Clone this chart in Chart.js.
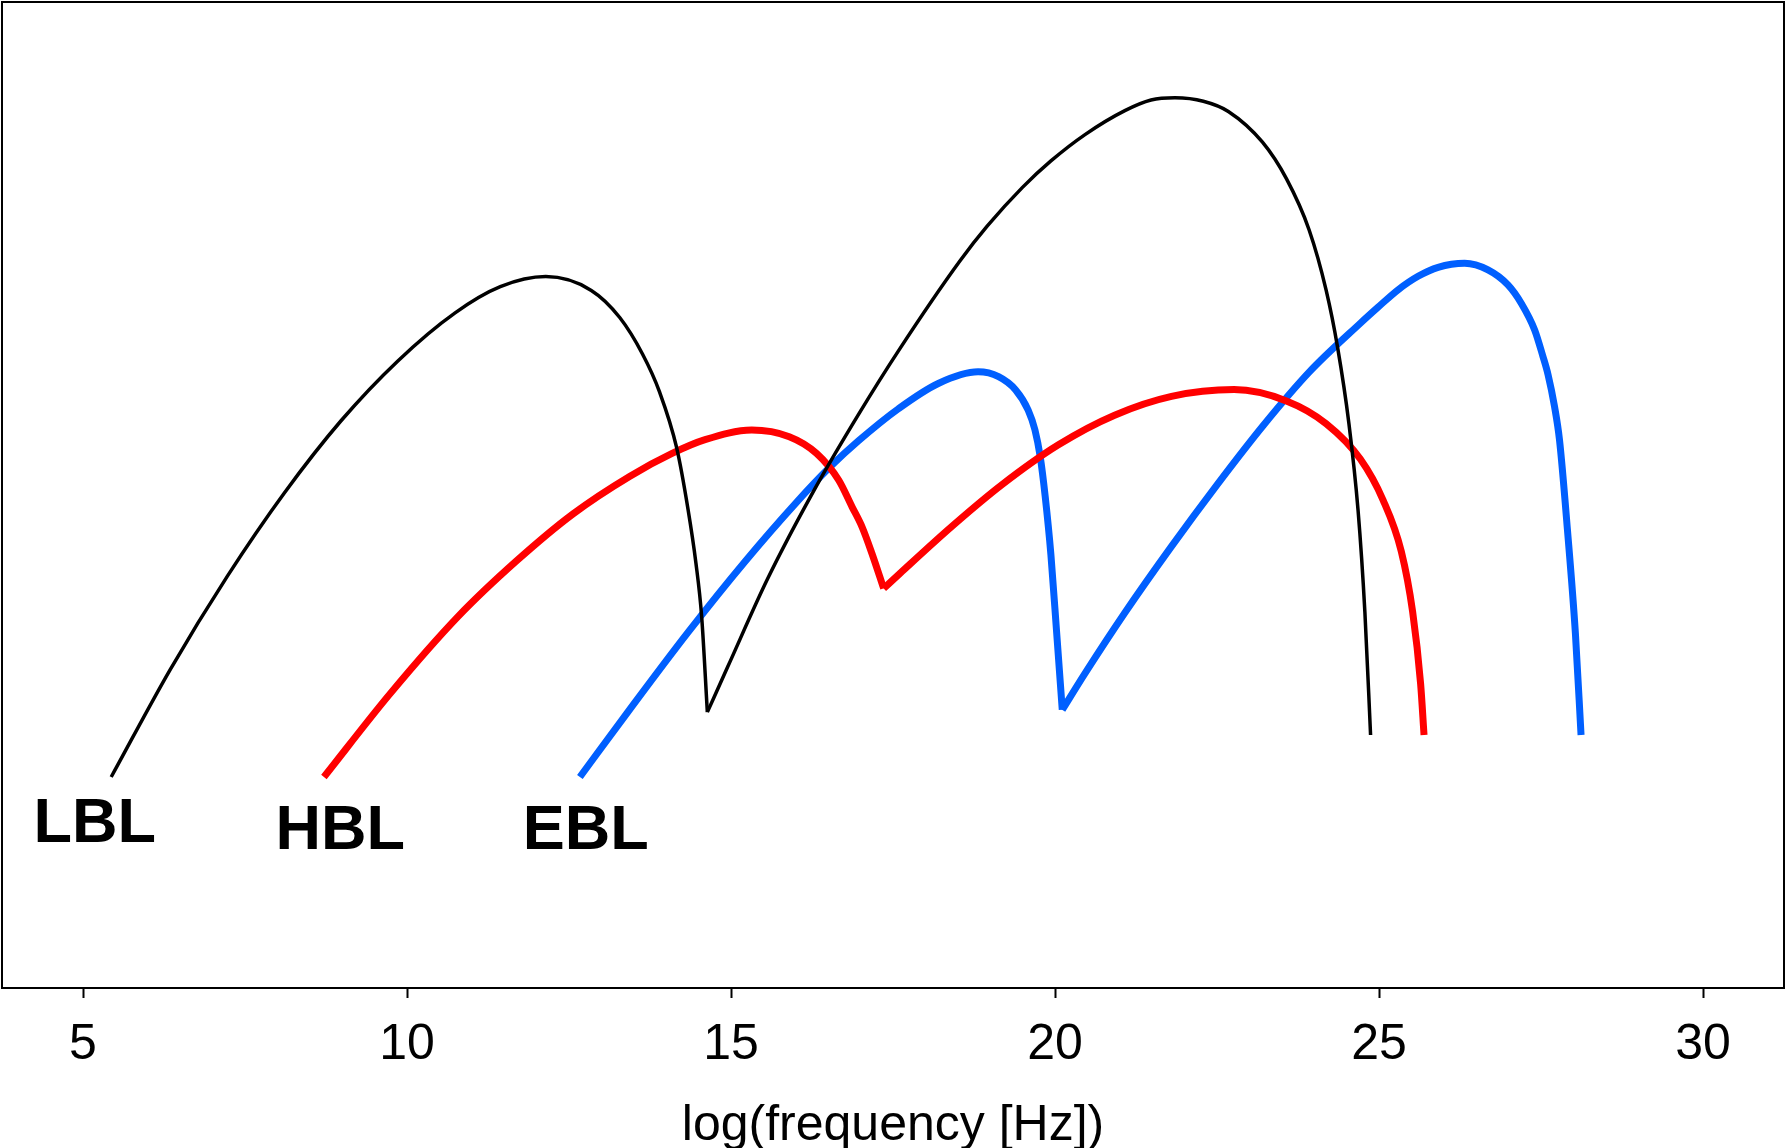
<!DOCTYPE html>
<html>
<head>
<meta charset="utf-8">
<script src="https://cdn.jsdelivr.net/npm/chart.js@4.4.1/dist/chart.umd.min.js"></script>
<style>
  html, body { margin: 0; padding: 0; background: #fff; }
  #wrap { width: 1786px; height: 1148px; position: relative; }
</style>
</head>
<body>
<div id="wrap"><canvas id="sedChart"></canvas></div>
<script>
// x = log(frequency [Hz]), y = log(nu F_nu) in arbitrary units (no y axis shown)
const tickValues = [5, 10, 15, 20, 25, 30];

// LBL: synchrotron and inverse-Compton humps
const lblSyncX = [5.435, 6.348, 7.226, 8.104, 8.982, 9.859, 10.737, 11.440, 12.142, 12.844, 13.283, 13.634, 13.897, 14.161, 14.336, 14.459, 14.547, 14.635];
const lblSyncY = [21.4, 32.32, 41.75, 50.18, 57.53, 63.60, 68.45, 71.13, 72.15, 70.75, 68.00, 64.30, 60.46, 54.80, 48.58, 43.08, 37.69, 27.98];
const lblIcX = [14.635, 14.951, 15.565, 16.285, 16.987, 17.584, 18.532, 18.953, 19.498, 19.937, 20.463, 21.078, 21.482, 21.850, 22.289, 22.675, 23.202, 23.571, 23.922, 24.185, 24.361, 24.536, 24.677, 24.782, 24.870];
const lblIcY = [27.98, 32.60, 41.50, 50.52, 58.38, 64.62, 73.73, 77.26, 81.20, 83.88, 86.55, 88.98, 90.06, 90.29, 89.94, 88.90, 85.78, 82.08, 76.88, 70.75, 64.97, 57.23, 48.44, 38.15, 25.66];

// HBL
const hblSyncX = [8.718, 9.737, 10.790, 11.685, 12.563, 13.441, 14.091, 14.600, 15.320, 15.899, 16.320, 16.662, 16.868, 17.022, 17.175, 17.356];
const hblSyncY = [21.4, 29.83, 37.69, 43.29, 48.09, 51.91, 54.22, 55.61, 56.59, 55.91, 54.22, 51.51, 48.80, 46.77, 44.07, 40.52];
const hblIcX = [17.356, 17.612, 18.409, 19.180, 20.053, 20.920, 21.798, 22.763, 23.571, 24.185, 24.712, 25.063, 25.344, 25.519, 25.642, 25.695];
const hblIcY = [40.52, 42.08, 46.82, 51.04, 55.09, 58.09, 60.00, 60.69, 59.54, 57.23, 53.64, 49.48, 44.28, 38.15, 30.87, 25.66];

// EBL
const eblSyncX = [12.668, 13.441, 14.336, 15.214, 16.004, 16.531, 16.970, 17.584, 18.199, 18.813, 19.129, 19.393, 19.586, 19.691, 19.772, 19.849, 19.937, 20.024, 20.112];
const eblSyncY = [21.4, 28.29, 36.07, 43.24, 49.21, 52.86, 55.51, 58.75, 61.31, 62.49, 62.00, 60.65, 58.61, 56.59, 53.87, 49.83, 43.93, 36.18, 28.21];
const eblIcX = [20.112, 20.463, 21.078, 21.798, 22.500, 23.220, 23.922, 24.712, 24.986, 25.292, 25.603, 25.912, 26.322, 26.682, 26.990, 27.195, 27.402, 27.530, 27.609, 27.709, 27.785, 27.908, 28.031, 28.118];
const eblIcY = [28.21, 31.91, 38.06, 44.79, 51.03, 57.10, 62.46, 67.42, 69.05, 70.80, 72.18, 73.09, 73.50, 72.83, 71.31, 69.45, 66.74, 64.05, 62.20, 58.96, 55.61, 46.47, 35.95, 25.66];

const classNames = ['LBL', 'HBL', 'EBL'];
const classLabelX = [5.18, 8.97, 12.76];
const classLabelY = [16.6, 15.9, 15.9];

function pts(xs, ys) {
    return xs.map(function (x, i) { return { x: x, y: ys[i] }; });
}

function curve(xs, ys, color, width) {
    return {
        data: pts(xs, ys),
        borderColor: color,
        borderWidth: width,
        pointRadius: 0,
        fill: false,
        cubicInterpolationMode: 'monotone'
    };
}

const frameAndLabels = {
    id: 'frameAndLabels',
    afterDatasetsDraw(chart) {
        const ctx = chart.ctx;
        const a = chart.chartArea;
        const xs = chart.scales.x;
        const ys = chart.scales.y;
        ctx.save();
        ctx.fillStyle = '#000';
        ctx.font = 'bold 63px "Liberation Sans", Arial, sans-serif';
        ctx.textAlign = 'center';
        ctx.textBaseline = 'middle';
        classNames.forEach(function (name, i) {
            ctx.fillText(name, xs.getPixelForValue(classLabelX[i]), ys.getPixelForValue(classLabelY[i]));
        });
        ctx.strokeStyle = '#000';
        ctx.lineWidth = 2;
        ctx.strokeRect(a.left, a.top, a.right - a.left, a.bottom - a.top);
        ctx.restore();
    }
};

new Chart(document.getElementById('sedChart'), {
    type: 'line',
    data: {
        datasets: [
            curve(lblSyncX, lblSyncY, '#000000', 3.5),
            curve(lblIcX, lblIcY, '#000000', 3.5),
            curve(hblSyncX, hblSyncY, '#ff0000', 7),
            curve(hblIcX, hblIcY, '#ff0000', 7),
            curve(eblSyncX, eblSyncY, '#005fff', 7),
            curve(eblIcX, eblIcY, '#005fff', 7)
        ]
    },
    options: {
        responsive: true,
        maintainAspectRatio: false,
        animation: false,
        layout: { padding: { left: 2, right: 2, top: 2, bottom: 0 } },
        plugins: {
            legend: { display: false },
            tooltip: { enabled: false }
        },
        scales: {
            x: {
                type: 'linear',
                min: 3.75,
                max: 31.25,
                afterBuildTicks: function (scale) {
                    scale.ticks = tickValues.map(function (v) { return { value: v }; });
                },
                afterFit: function (scale) { scale.height = 160; },
                border: { display: false },
                grid: {
                    drawOnChartArea: false,
                    drawTicks: true,
                    tickLength: 10,
                    tickWidth: 2,
                    tickColor: '#000'
                },
                ticks: {
                    color: '#000',
                    padding: 17,
                    maxRotation: 0,
                    font: { family: '"Liberation Sans", Arial, sans-serif', size: 50 }
                },
                title: {
                    display: true,
                    text: 'log(frequency [Hz])',
                    color: '#000',
                    padding: { top: 0, bottom: 2 },
                    font: { family: '"Liberation Sans", Arial, sans-serif', size: 50, lineHeight: 0.78 }
                }
            },
            y: {
                type: 'linear',
                min: 0,
                max: 100,
                display: false
            }
        }
    },
    plugins: [frameAndLabels]
});
</script>
</body>
</html>
